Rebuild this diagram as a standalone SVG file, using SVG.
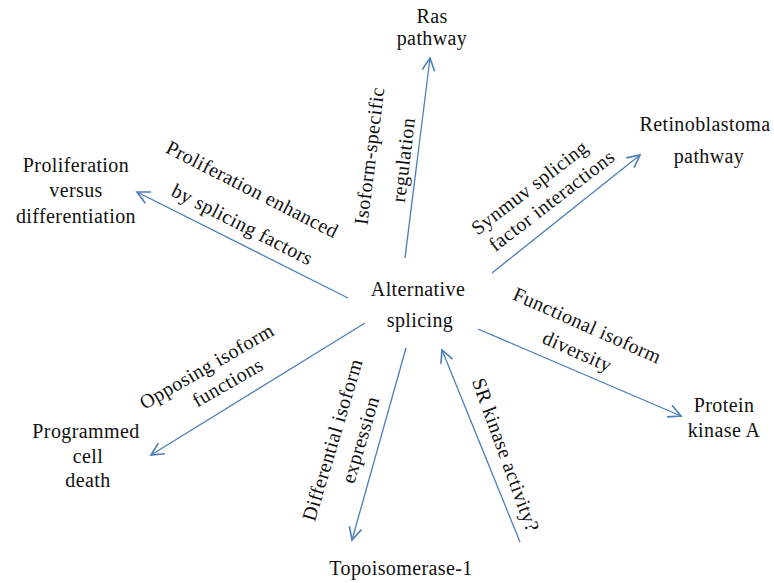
<svg xmlns="http://www.w3.org/2000/svg" width="774" height="583" viewBox="0 0 774 583">
<style>
text{font-family:"Liberation Serif","Times New Roman",serif;font-size:20px;fill:#111111;letter-spacing:0.4px}
.n{text-anchor:middle}
.c{stroke:#4a7ebb;stroke-width:1.3;fill:none}
</style>
<defs>
<marker id="ah" markerUnits="userSpaceOnUse" markerWidth="20" markerHeight="20" refX="0" refY="0" viewBox="-12 -8 14 16" orient="auto" overflow="visible">
<path d="M-10,-5 L0,0 L-10,5" fill="none" stroke="#4a7ebb" stroke-width="1.3"/>
</marker>
</defs>
<rect width="774" height="583" fill="#ffffff"/>
<g id="connectors">
<line class="c" x1="405" y1="258" x2="430" y2="58" marker-end="url(#ah)"/>
<line class="c" x1="348" y1="298" x2="137" y2="192" marker-end="url(#ah)"/>
<line class="c" x1="492" y1="273" x2="640" y2="155" marker-end="url(#ah)"/>
<line class="c" x1="478" y1="329" x2="681" y2="416" marker-end="url(#ah)"/>
<line class="c" x1="406" y1="348" x2="352" y2="540" marker-end="url(#ah)"/>
<line class="c" x1="520" y1="542" x2="442" y2="350" marker-end="url(#ah)"/>
<line class="c" x1="365" y1="323" x2="151" y2="455" marker-end="url(#ah)"/>
</g>
<g id="edge-labels">
<text class="n" transform="translate(370,156) rotate(-83)" y="6">Isoform-specific</text>
<text class="n" transform="translate(404,160) rotate(-83)" y="6">regulation</text>
<text class="n" transform="translate(252,190) rotate(27)" y="6">Proliferation enhanced</text>
<text class="n" transform="translate(242,225) rotate(27)" y="6">by splicing factors</text>
<text class="n" transform="translate(530,188) rotate(-37.5)" y="6">Synmuv splicing</text>
<text class="n" transform="translate(552,201) rotate(-37.5)" y="6">factor interactions</text>
<text class="n" transform="translate(587,326) rotate(24)" y="6">Functional isoform</text>
<text class="n" transform="translate(577,352) rotate(24)" y="6">diversity</text>
<text class="n" transform="translate(207,367) rotate(-30)" y="6">Opposing isoform</text>
<text class="n" transform="translate(228,383) rotate(-30)" y="6">functions</text>
<text class="n" transform="translate(333,440) rotate(-73.4)" y="6">Differential isoform</text>
<text class="n" transform="translate(361,440) rotate(-73.4)" y="6">expression</text>
<text class="n" transform="translate(505,455) rotate(70)" y="6">SR kinase activity?</text>
</g>
<g id="node-center">
<text class="n" x="418" y="296">Alternative</text>
<text class="n" x="420" y="327">splicing</text>
</g>
<g id="node-ras">
<text class="n" x="432" y="23">Ras</text>
<text class="n" x="432" y="45">pathway</text>
</g>
<g id="node-rb">
<text class="n" x="705" y="131">Retinoblastoma</text>
<text class="n" x="709" y="163">pathway</text>
</g>
<g id="node-pka">
<text class="n" x="724" y="412">Protein</text>
<text class="n" x="724" y="437">kinase A</text>
</g>
<g id="node-topo">
<text class="n" x="401" y="575">Topoisomerase-1</text>
</g>
<g id="node-pcd">
<text class="n" x="86" y="438">Programmed</text>
<text class="n" x="88" y="463">cell</text>
<text class="n" x="88" y="487">death</text>
</g>
<g id="node-prolif">
<text class="n" x="76" y="172">Proliferation</text>
<text class="n" x="76" y="197">versus</text>
<text class="n" x="76" y="223">differentiation</text>
</g>
</svg>
